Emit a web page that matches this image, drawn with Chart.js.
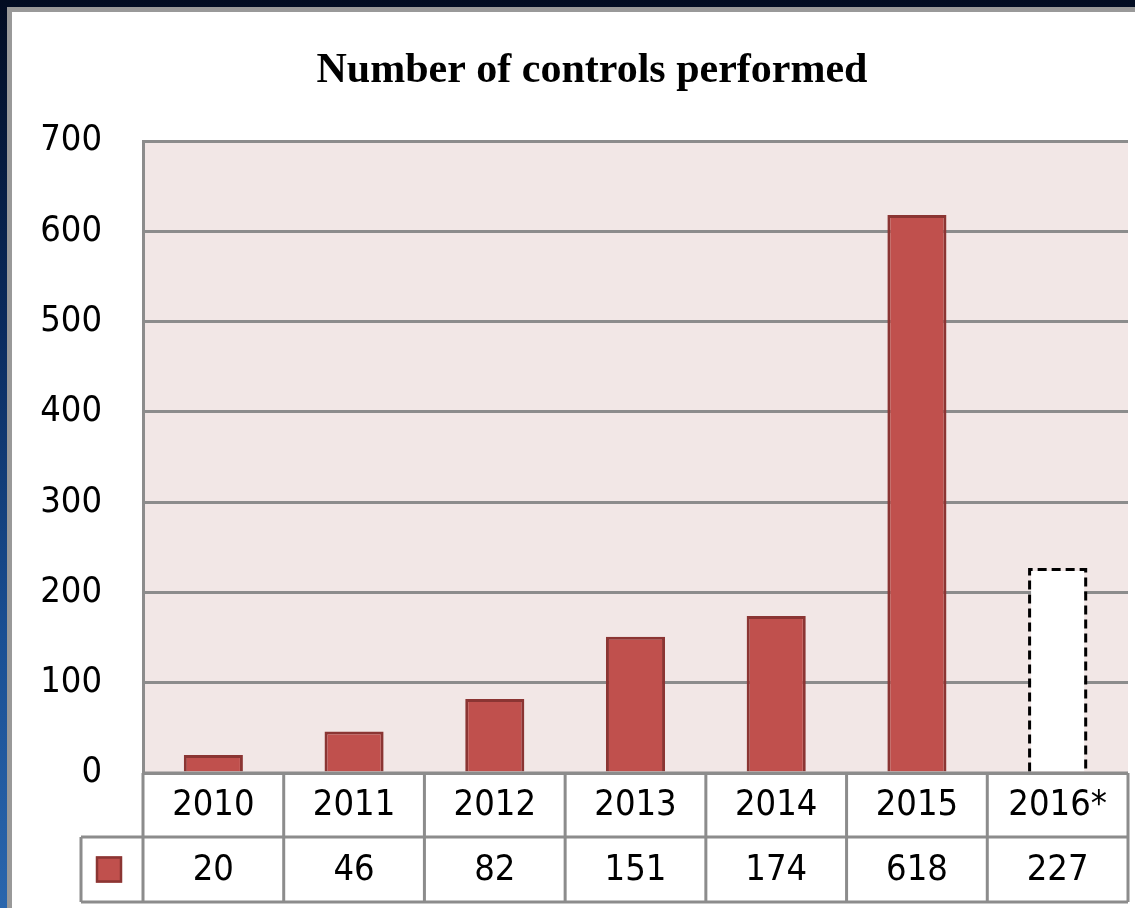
<!DOCTYPE html>
<html>
<head>
<meta charset="utf-8">
<script src="https://cdn.jsdelivr.net/npm/chart.js@4"></script>
<style>
  html, body { margin: 0; padding: 0; }
  body {
    width: 1135px; height: 908px; overflow: hidden; position: relative;
    background: linear-gradient(to bottom, #020c22 0%, #0a2a5c 35%, #1a4f93 70%, #2a66ad 100%);
  }
  #panel {
    position: absolute; left: 7px; top: 7px; width: 1200px; height: 1000px;
    background: #fff; border: 5px solid #999;
  }
  #wrap { position: absolute; left: 0; top: 0; width: 1135px; height: 908px; }
</style>
</head>
<body>
<div id="panel"></div>
<div id="wrap"><canvas id="bars"></canvas></div>
<script>
const chartTitle = "Number of controls performed";
const years = ["2010", "2011", "2012", "2013", "2014", "2015", "2016*"];
const controls = [20, 46, 82, 151, 174, 618, 227];
const yTicks = [0, 100, 200, 300, 400, 500, 600, 700];

const barRed = "#c0504d";
const barEdge = "#8b3533";
const lineGray = "#8c8c8c";
const numFont = '36px "DejaVu Sans Condensed", "Open Sans", sans-serif';

// pink plot background
const plotBg = {
  id: "plotBg",
  beforeDraw(chart) {
    const { ctx, chartArea: a } = chart;
    ctx.save();
    ctx.fillStyle = "#f2e7e6";
    ctx.fillRect(a.left, a.top, a.right - a.left, a.bottom - a.top);
    ctx.restore();
  },
};

// title sits a bit off centre in the original, so draw it here
const titleText = {
  id: "titleText",
  afterDraw(chart) {
    const ctx = chart.ctx;
    ctx.save();
    ctx.fillStyle = "#000";
    ctx.font = 'bold 42px "Liberation Serif", "Times New Roman", serif';
    ctx.textAlign = "center";
    ctx.textBaseline = "alphabetic";
    ctx.fillText(chartTitle, 592, 82);
    ctx.restore();
  },
};

// 2016 is an estimate: white bar with a dashed outline
const dashedLast = {
  id: "dashedLast",
  afterDatasetsDraw(chart) {
    const el = chart.getDatasetMeta(0).data[controls.length - 1];
    if (!el) return;
    const { x, y, base, width } = el.getProps(["x", "y", "base", "width"], true);
    const ctx = chart.ctx;
    ctx.save();
    ctx.strokeStyle = "#000";
    ctx.lineWidth = 3;
    ctx.setLineDash([9, 5]);
    ctx.beginPath();
    ctx.moveTo(x - width / 2 + 1.5, base);
    ctx.lineTo(x - width / 2 + 1.5, y + 1.5);
    ctx.lineTo(x + width / 2 - 1.5, y + 1.5);
    ctx.lineTo(x + width / 2 - 1.5, base);
    ctx.stroke();
    ctx.restore();
  },
};

// data table under the plot
const dataTable = {
  id: "dataTable",
  afterDraw(chart) {
    const { ctx, chartArea: a } = chart;
    const xs = chart.scales.x;
    const step = (a.right - a.left) / years.length;
    const r0 = a.bottom, r1 = a.bottom + 64, r2 = a.bottom + 129;
    const keyLeft = a.left - 62;

    ctx.save();
    ctx.strokeStyle = lineGray;
    ctx.lineWidth = 3;
    ctx.beginPath();
    ctx.moveTo(a.left, r0); ctx.lineTo(a.right, r0);
    ctx.moveTo(keyLeft, r1); ctx.lineTo(a.right, r1);
    ctx.moveTo(keyLeft, r2); ctx.lineTo(a.right, r2);
    ctx.moveTo(keyLeft, r1); ctx.lineTo(keyLeft, r2);
    for (let i = 0; i <= years.length; i++) {
      const bx = i < years.length ? xs.getPixelForValue(i) - step / 2 : a.right;
      ctx.moveTo(bx, r0); ctx.lineTo(bx, r2);
    }
    ctx.stroke();

    ctx.fillStyle = "#000";
    ctx.font = numFont;
    ctx.textAlign = "center";
    ctx.textBaseline = "middle";
    years.forEach((yr, i) => {
      const cx = xs.getPixelForValue(i);
      ctx.fillText(yr, cx, (r0 + r1) / 2 + 1);
      ctx.fillText(String(controls[i]), cx, (r1 + r2) / 2 + 1);
    });

    // legend key
    const kx = (keyLeft + a.left) / 2 - 3, ky = (r1 + r2) / 2;
    ctx.fillStyle = barRed;
    ctx.fillRect(kx - 13, ky - 13, 26, 26);
    ctx.strokeStyle = barEdge;
    ctx.lineWidth = 2.5;
    ctx.strokeRect(kx - 12, ky - 12, 24, 24);
    ctx.restore();
  },
};

window.addEventListener("load", () => {
  const ctx = document.getElementById("bars");
  new Chart(ctx, {
    type: "bar",
    data: {
      labels: years,
      datasets: [
        {
          label: "Controls",
          data: controls,
          backgroundColor: controls.map((v, i) => (i === controls.length - 1 ? "#ffffff" : barRed)),
          borderColor: controls.map((v, i) => (i === controls.length - 1 ? "rgba(0,0,0,0)" : barEdge)),
          borderWidth: 3,
          categoryPercentage: 1,
          barPercentage: 0.42,
        },
      ],
    },
    options: {
      responsive: true,
      maintainAspectRatio: false,
      animation: false,
      layout: { padding: { left: 0, right: 7, top: 141, bottom: 135 } },
      plugins: {
        legend: { display: false },
        tooltip: { enabled: false },
        title: { display: false },
      },
      scales: {
        x: {
          display: false,
        },
        y: {
          min: 0,
          max: 700,
          afterFit(scale) { scale.width = 143; },
          afterBuildTicks(scale) { scale.ticks = yTicks.map((v) => ({ value: v })); },
          ticks: {
            color: "#000",
            padding: 41,
            font: { family: '"DejaVu Sans Condensed", "Open Sans", sans-serif', size: 36 },
          },
          grid: { color: lineGray, lineWidth: 3, drawTicks: false },
          border: { display: true, color: lineGray, width: 3 },
        },
      },
    },
    plugins: [plotBg, dashedLast, dataTable, titleText],
  });
});
</script>
</body>
</html>
